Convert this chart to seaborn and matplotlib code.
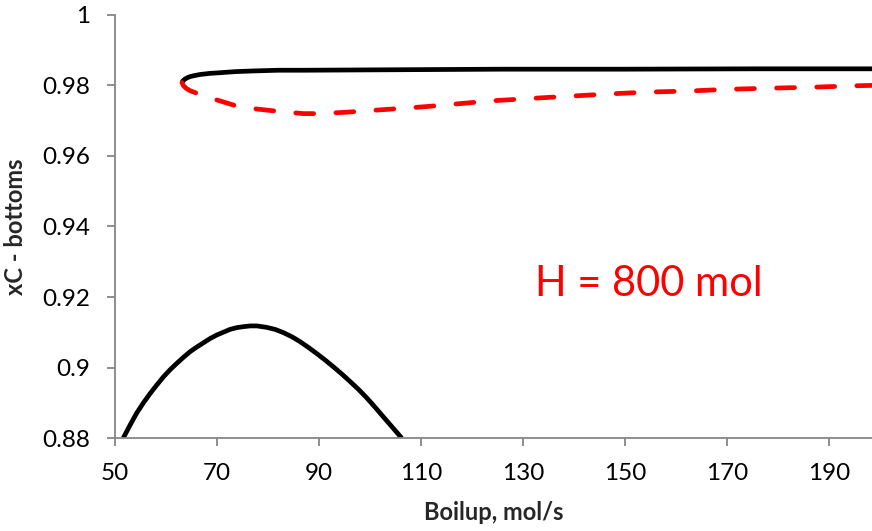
import matplotlib
matplotlib.use("Agg")
import matplotlib.pyplot as plt
import pandas as pd
import seaborn as sns

# Upper stable branch (solid black)
upper_boilup = [63.1, 63.3, 63.7, 64.2, 64.7, 65.6, 66.7, 68.5, 70.6, 73.5, 77.1, 82.0,
                86.9, 100.0, 126.0, 150.0, 175.0, 198.4]
upper_xc = [0.9808, 0.9813, 0.9818, 0.9822, 0.9825, 0.9828, 0.9831, 0.9834, 0.9836, 0.9839,
            0.9841, 0.9843, 0.9843, 0.9844, 0.9846, 0.9846, 0.9847, 0.9847]

# Unstable branch (red dashed)
mid_boilup = [63.1, 63.4, 64.0, 64.7, 66.0, 67.8, 69.9, 73.5, 77.8, 81.0, 84.0, 86.9, 90.0,
              95.4, 103.3, 111.1, 118.9, 123.5, 135.0, 147.1, 154.2, 162.4, 170.3, 178.1,
              186.9, 195.4, 198.4]
mid_xc = [0.9808, 0.9799, 0.9791, 0.9785, 0.9778, 0.9768, 0.9759, 0.9743, 0.9733, 0.9728,
          0.9724, 0.9720, 0.9720, 0.9724, 0.9732, 0.9740, 0.9750, 0.9756, 0.9766, 0.9776,
          0.9781, 0.9784, 0.9789, 0.9792, 0.9795, 0.9799, 0.9800]

# Lower stable branch (solid black)
lower_boilup = [51.6, 52.9, 54.2, 55.5, 56.9, 58.2, 59.5, 60.8, 62.1, 63.4, 64.7, 66.0,
                67.3, 68.6, 69.9, 71.2, 72.5, 73.8, 75.2, 76.5, 77.8, 79.7, 81.4, 83.0,
                84.7, 86.3, 87.9, 89.5, 91.2, 92.8, 94.5, 96.1, 97.8, 99.4, 101.0, 102.6,
                104.4, 106.2]
lower_xc = [0.8800, 0.8836, 0.8870, 0.8899, 0.8927, 0.8951, 0.8974, 0.8994, 0.9012, 0.9029,
            0.9045, 0.9058, 0.9070, 0.9082, 0.9092, 0.9100, 0.9108, 0.9113, 0.9116, 0.9118,
            0.9118, 0.9114, 0.9108, 0.9099, 0.9087, 0.9073, 0.9057, 0.9040, 0.9021, 0.9002,
            0.8981, 0.8960, 0.8937, 0.8913, 0.8887, 0.8860, 0.8830, 0.8800]

x_ticks = [50, 70, 90, 110, 130, 150, 170, 190]
y_ticks = [0.88, 0.9, 0.92, 0.94, 0.96, 0.98, 1.0]
y_tick_labels = ["0.88", "0.9", "0.92", "0.94", "0.96", "0.98", "1"]

upper = pd.DataFrame({"Boilup": upper_boilup, "xC": upper_xc})
mid = pd.DataFrame({"Boilup": mid_boilup, "xC": mid_xc})
lower = pd.DataFrame({"Boilup": lower_boilup, "xC": lower_xc})

sns.set_theme(style="white")
plt.rcParams["font.family"] = ["Lato", "DejaVu Sans"]

fig = plt.figure(figsize=(8.72, 5.31), dpi=100)
ax = fig.add_axes([0.132, 0.175, 0.868, 0.797])

lw = 3.4
sns.lineplot(data=lower, x="Boilup", y="xC", sort=False, estimator=None,
             color="black", linewidth=lw, ax=ax)
sns.lineplot(data=upper, x="Boilup", y="xC", sort=False, estimator=None,
             color="black", linewidth=lw, ax=ax)
sns.lineplot(data=mid, x="Boilup", y="xC", sort=False, estimator=None,
             color="#ff0000", linewidth=lw, ax=ax)
red_line = ax.get_lines()[-1]
red_line.set_dashes((3.8, 4.7))
red_line.set_dash_capstyle("round")
for ln in ax.get_lines():
    ln.set_solid_capstyle("butt")
    ln.set_solid_joinstyle("round")

ax.set_xlim(50, 198.4)
ax.set_ylim(0.88, 1.0)
ax.set_xticks(x_ticks)
ax.set_yticks(y_ticks)
ax.set_yticklabels(y_tick_labels)

spine_color = "#868686"
for side in ["top", "right"]:
    ax.spines[side].set_visible(False)
for side in ["left", "bottom"]:
    ax.spines[side].set_color(spine_color)
    ax.spines[side].set_linewidth(1.3)

ax.tick_params(axis="both", which="major", direction="out", length=6,
               width=1.3, color=spine_color, labelsize=17.5, labelcolor="black")
ax.tick_params(axis="x", pad=12, bottom=True)
ax.tick_params(axis="y", pad=12, left=True)

ax.set_xlabel("Boilup, mol/s", fontsize=17, fontweight="bold", labelpad=12)
ax.set_ylabel("xC - bottoms", fontsize=17, fontweight="bold", labelpad=11)

ax.text(154.7, 0.9236, "H = 800 mol", color="#ff0000", fontsize=30,
        ha="center", va="center")

fig.savefig("out.png", dpi=100)
